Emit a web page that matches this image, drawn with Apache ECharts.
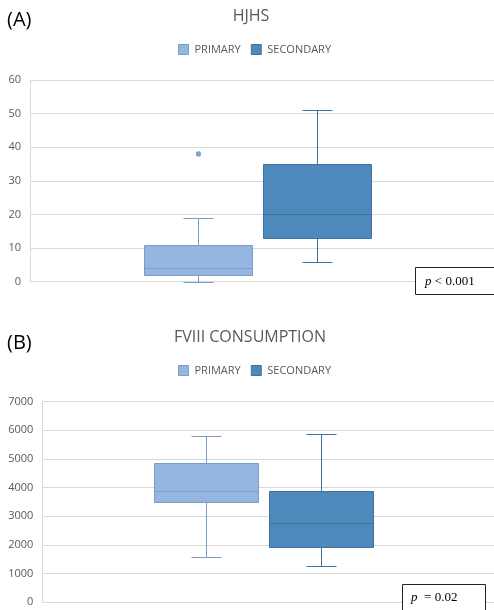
<!DOCTYPE html>
<html><head><meta charset="utf-8">
<script src="https://cdn.jsdelivr.net/npm/echarts@6/dist/echarts.min.js"></script>
<style>html,body{margin:0;padding:0;background:#fff}#c{width:494px;height:610px}</style>
</head><body><div id="c"></div>
<script>
// ---- data ----
const seriesNames = ['PRIMARY', 'SECONDARY'];
const xCategories = [''];
// [min, Q1, median, Q3, max]
const hjhsPrimary = [0, 2, 4, 11, 19];
const hjhsSecondary = [6, 13, 20, 35, 51];
const hjhsPrimaryOutliers = [38];
const fviiiPrimary = [1570, 3510, 3880, 4860, 5800];
const fviiiSecondary = [1280, 1920, 2750, 3880, 5880];
const hjhsAxis = [0, 60, 10];      // min, max, interval
const fviiiAxis = [0, 7000, 1000];
const chartTitles = ['HJHS', 'FVIII CONSUMPTION'];
const panelLabels = ['(A)', '(B)'];
const pTexts = ['< 0.001', ' = 0.02'];

// ---- style ----
const FILL = ['#95b6df', '#4f88bb'];
const STROKE = ['#7b9cc8', '#41729f'];
const OUTLIER = '#7fa1cf';
const OFFSET = [-0.137, 0.118];
const BOX_W = 0.231, CAP_W = 0.066;
const TXT = '#595959', GRIDC = '#d9d9d9';
const SANS = '"Open Sans", sans-serif';
const SERIF = '"Liberation Serif", "DejaVu Serif", serif';

function boxRender(k) {
  return function (params, api) {
    const band = api.size([1, 0])[0];
    const cat = api.value(0);
    const x0 = Math.round(api.coord([cat, 0])[0] + OFFSET[k] * band) + 0.5;
    const y = i => Math.round(api.coord([cat, api.value(i)])[1]) + 0.5;
    const yMin = y(1), yQ1 = y(2), yMed = y(3), yQ3 = y(4), yMax = y(5);
    const hw = Math.round(BOX_W * band / 2), hc = Math.round(CAP_W * band / 2);
    const ls = {stroke: STROKE[k], lineWidth: 1};
    const L = (x1, y1, x2, y2) => ({type: 'line', shape: {x1, y1, x2, y2}, style: ls});
    return {type: 'group', children: [
      L(x0, yMax, x0, yQ3), L(x0 - hc, yMax, x0 + hc, yMax),
      L(x0, yQ1, x0, yMin), L(x0 - hc, yMin, x0 + hc, yMin),
      {type: 'rect', shape: {x: x0 - hw, y: yQ3, width: 2 * hw, height: yQ1 - yQ3},
       style: {fill: FILL[k], stroke: STROKE[k], lineWidth: 1}},
      L(x0 - hw, yMed, x0 + hw, yMed)
    ]};
  };
}
function outlierRender(k) {
  return function (params, api) {
    const band = api.size([1, 0])[0];
    const p = api.coord([api.value(0), api.value(1)]);
    return {type: 'circle', shape: {cx: Math.round(p[0] + OFFSET[k] * band) + 0.5, cy: p[1], r: 2.6},
            style: {fill: OUTLIER}};
  };
}

function boxSeries(k, values, gi) {
  return {
    type: 'custom', name: seriesNames[k], xAxisIndex: gi, yAxisIndex: gi,
    itemStyle: {color: FILL[k], borderColor: STROKE[k]},
    dimensions: ['x', 'min', 'q1', 'median', 'q3', 'max'],
    encode: {x: 'x', y: ['min', 'q1', 'median', 'q3', 'max']},
    data: [[0].concat(values)],
    renderItem: boxRender(k), z: 3
  };
}
function outlierSeries(k, values, gi) {
  return {
    type: 'custom', name: seriesNames[k], xAxisIndex: gi, yAxisIndex: gi,
    itemStyle: {color: FILL[k]},
    encode: {x: 0, y: 1},
    data: values.map(v => [0, v]),
    renderItem: outlierRender(k), z: 4
  };
}

const grids = [
  {left: 30, top: 80, right: 0, height: 201.7},
  {left: 42.3, top: 401.7, right: 0, height: 200.6}
];
const axesDef = [hjhsAxis, fviiiAxis];

const option = {
  animation: false,
  backgroundColor: '#fff',
  grid: grids,
  xAxis: grids.map((g, i) => ({
    type: 'category', gridIndex: i, data: xCategories,
    axisLine: {show: true, lineStyle: {color: GRIDC, width: 1}},
    axisTick: {show: false}, axisLabel: {show: false}, splitLine: {show: false}
  })),
  yAxis: axesDef.map((a, i) => ({
    type: 'value', gridIndex: i, min: a[0], max: a[1], interval: a[2],
    axisLine: {show: true, lineStyle: {color: GRIDC, width: 1}},
    axisTick: {show: false},
    axisLabel: {color: TXT, fontSize: 11, fontFamily: SANS, margin: 9, formatter: v => String(v)},
    splitLine: {show: true, lineStyle: {color: GRIDC, width: 1}}
  })),
  legend: [44, 365].map(t => ({
    top: t, left: 178, padding: 0, itemWidth: 10, itemHeight: 10, itemGap: 10,
    textStyle: {color: TXT, fontSize: 11, fontFamily: SANS, padding: [0, 0, 0, 1]},
    selectedMode: false,
    data: seriesNames.map((n, k) => ({name: n, icon: 'rect',
      itemStyle: {color: FILL[k], borderColor: STROKE[k], borderWidth: 1}}))
  })),
  series: [
    boxSeries(0, hjhsPrimary, 0),
    boxSeries(1, hjhsSecondary, 0),
    outlierSeries(0, hjhsPrimaryOutliers, 0),
    boxSeries(0, fviiiPrimary, 1),
    boxSeries(1, fviiiSecondary, 1)
  ],
  graphic: [
    {type: 'text', x: 7, y: 20, style: {text: panelLabels[0], font: '20px ' + SANS, fill: '#000', verticalAlign: 'middle'}},
    {type: 'text', x: 251, y: 16, style: {text: chartTitles[0], font: '16px ' + SANS, fill: TXT, align: 'center', verticalAlign: 'middle'}},
    {type: 'text', x: 7, y: 343, style: {text: panelLabels[1], font: '20px ' + SANS, fill: '#000', verticalAlign: 'middle'}},
    {type: 'text', x: 250, y: 337.5, style: {text: chartTitles[1], font: '16px ' + SANS, fill: TXT, align: 'center', verticalAlign: 'middle'}},
    {type: 'rect', z: 100, shape: {x: 415.5, y: 267.5, width: 90, height: 27}, style: {fill: '#fff', stroke: '#222', lineWidth: 1}},
    {type: 'text', z: 101, x: 425, y: 282, style: {
      text: '{i|p} {n|' + pTexts[0] + '}', verticalAlign: 'middle',
      rich: {i: {fontStyle: 'italic', fontFamily: SERIF, fontSize: 13, fill: '#000'},
             n: {fontFamily: SERIF, fontSize: 13, fill: '#000'}}}},
    {type: 'rect', z: 100, shape: {x: 402.5, y: 584.5, width: 83, height: 40}, style: {fill: '#fff', stroke: '#222', lineWidth: 1}},
    {type: 'text', z: 101, x: 411, y: 598, style: {
      text: '{i|p} {n|' + pTexts[1] + '}', verticalAlign: 'middle',
      rich: {i: {fontStyle: 'italic', fontFamily: SERIF, fontSize: 13, fill: '#000'},
             n: {fontFamily: SERIF, fontSize: 13, fill: '#000'}}}}
  ]
};
const chart = echarts.init(document.getElementById('c'), null, {renderer: 'canvas'});
chart.setOption(option);
</script></body></html>
